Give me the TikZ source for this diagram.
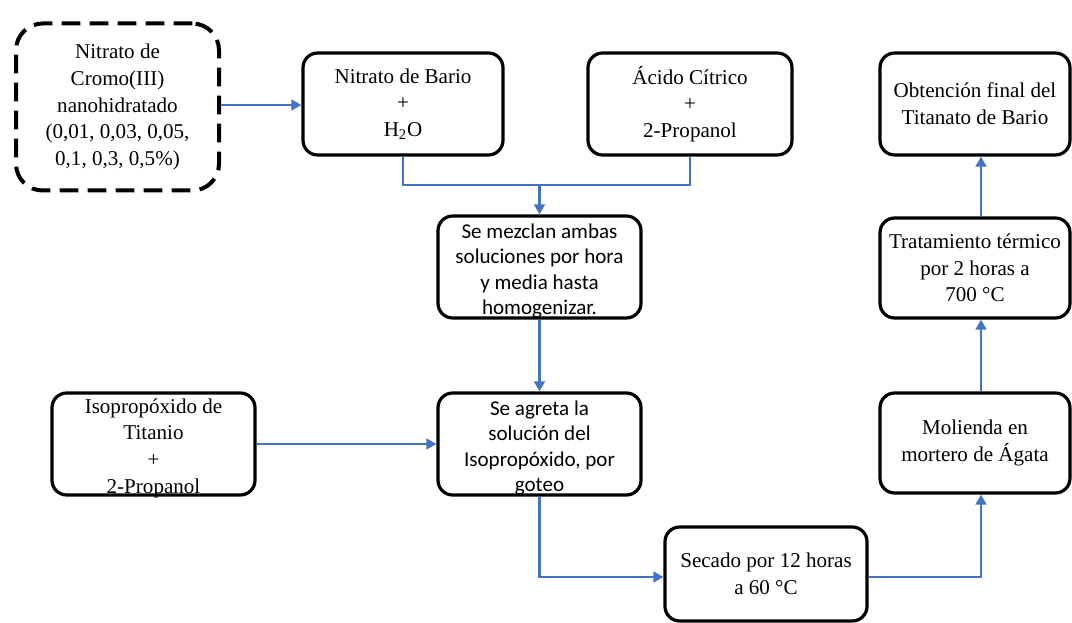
\documentclass[tikz,border=0pt]{standalone}
\usepackage{fontspec}
\setmainfont{Liberation Serif}
\newfontfamily\calibfont{Carlito}
\usetikzlibrary{arrows.meta}
\definecolor{flowblue}{HTML}{4472C4}
\begin{document}
\begin{tikzpicture}[x=0.75pt,y=-0.75pt,
  box/.style={draw=black, line width=2.4pt, rounded corners=11pt, fill=white,
    inner sep=0pt, align=center,
    minimum width={#1*0.75pt}, minimum height={102*0.75pt},
    font=\fontsize{15.8}{20}\selectfont},
  sansbox/.style={box=#1},
  sanstext/.style={inner sep=0pt, align=center,
    font=\calibfont\fontsize{15.8}{18.8}\selectfont},
  dashbox/.style={box=#1, line width=3pt, dash pattern=on 14pt off 7pt,
    rounded corners=20pt},
  link/.style={draw=flowblue, line width=2.2pt},
  arr/.style={link, -{Triangle[length=7.5pt,width=8pt]}}]
\useasboundingbox (0,0) rectangle (1072,623);

% first row
\node[dashbox=203, minimum height={167*0.75pt}] (crom) at (117.5,107)
  {Nitrato de\\Cromo(III)\\nanohidratado\\(0,01, 0,03, 0,05,\\0,1, 0,3, 0,5\%)};
\node[box=200] (bario) at (403,104) {Nitrato de Bario\\+\\H\textsubscript{2}O};
\node[box=204] (cit) at (690,104) {Ácido Cítrico\\+\\2-Propanol};
\node[box=190] (obt) at (975,104) {Obtención final del\\Titanato de Bario};

% second row
\node[sansbox=203] (mez) at (539.5,267) {};
\node[sanstext] (mezt) at ([yshift=-3pt]mez.center)
  {Se mezclan ambas\\soluciones por hora\\y media hasta\\homogenizar.};
\node[box=190, minimum height={100*0.75pt}] (trat) at (975,268)
  {Tratamiento térmico\\por 2 horas a\\700 °C};

% third row
\node[box=203] (iso) at (153.5,444) {};
\node[inner sep=0pt, align=center, font=\fontsize{15.8}{20}\selectfont] (isot)
  at ([yshift=-3pt]iso.center) {Isopropóxido de\\Titanio\\+\\2-Propanol};
\node[sansbox=203] (agr) at (539.5,444) {};
\node[sanstext] (agrt) at ([yshift=-3pt]agr.center)
  {Se agreta la\\solución del\\Isopropóxido, por\\goteo};
\node[box=190, minimum height={100*0.75pt}] (mol) at (975,443)
  {Molienda en\\mortero de Ágata};

% bottom
\node[box=202, minimum height={94*0.75pt}] (sec) at (766,574)
  {Secado por 12 horas\\a 60 °C};

% routing points
\coordinate (join) at (539.5,185);
\coordinate (low) at (539.5,577);
\coordinate (rcol) at (981,0);

% connectors
\draw[arr] (crom.east |- 0,105) -- (bario.west |- 0,105);
\draw[link] (bario.south) -- (bario.south |- join) -- (cit.south |- join) -- (cit.south);
\draw[arr] (join) -- (mez.north);
\draw[arr] (mez.south) -- (agr.north);
\draw[arr] (iso.east |- agr.west) -- (agr.west);
\draw[arr] (agr.south) -- (low) -- (sec.west |- low);
\draw[arr] (sec.east |- low) -- (rcol |- low) -- (rcol |- mol.south);
\draw[arr] (rcol |- mol.north) -- (rcol |- trat.south);
\draw[arr] (rcol |- trat.north) -- (rcol |- obt.south);
\end{tikzpicture}
\end{document}
